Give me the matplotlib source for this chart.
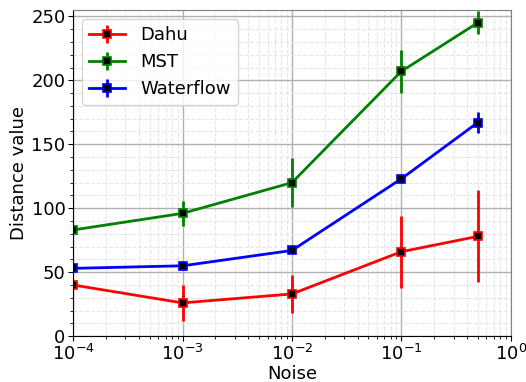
import matplotlib
matplotlib.use("Agg")
import matplotlib.pyplot as plt

noise = [1e-4, 1e-3, 1e-2, 1e-1, 0.5]

dahu = [40, 26, 33, 66, 78]
dahu_err = [3, 14, 15, 28, 36]
mst = [83, 96, 120, 207, 245]
mst_err = [2, 10, 19, 17, 9]
waterflow = [53, 55, 67, 123, 167]
waterflow_err = [2, 2, 2, 3, 8]

fig, ax = plt.subplots(figsize=(5.26, 3.82), dpi=100)

for vals, errs, col, name in [(dahu, dahu_err, 'red', 'Dahu'),
                              (mst, mst_err, 'green', 'MST'),
                              (waterflow, waterflow_err, 'blue', 'Waterflow')]:
    ax.errorbar(noise, vals, yerr=errs, color=col, lw=2, elinewidth=2,
                marker='s', markersize=6, markerfacecolor='black',
                markeredgecolor=col, markeredgewidth=1.2, label=name)

ax.set_xscale('log')
ax.set_xlim(1e-4, 1)
ax.set_ylim(0, 255)
ax.minorticks_on()
ax.grid(which='major', color='#b0b0b0', lw=1)
ax.grid(which='minor', color='#e6e6e6', ls='--', lw=0.8)
ax.set_axisbelow(True)
for s in ['top', 'right']:
    ax.spines[s].set_color('#808080')
ax.tick_params(labelsize=13, pad=2)
ax.set_xlabel('Noise', fontsize=13, labelpad=1)
ax.set_ylabel('Distance value', fontsize=13, labelpad=2)
ax.legend(fontsize=13, loc='upper left')

fig.subplots_adjust(left=0.139, right=0.971, top=0.974, bottom=0.12)
fig.savefig('out.png', dpi=100)
